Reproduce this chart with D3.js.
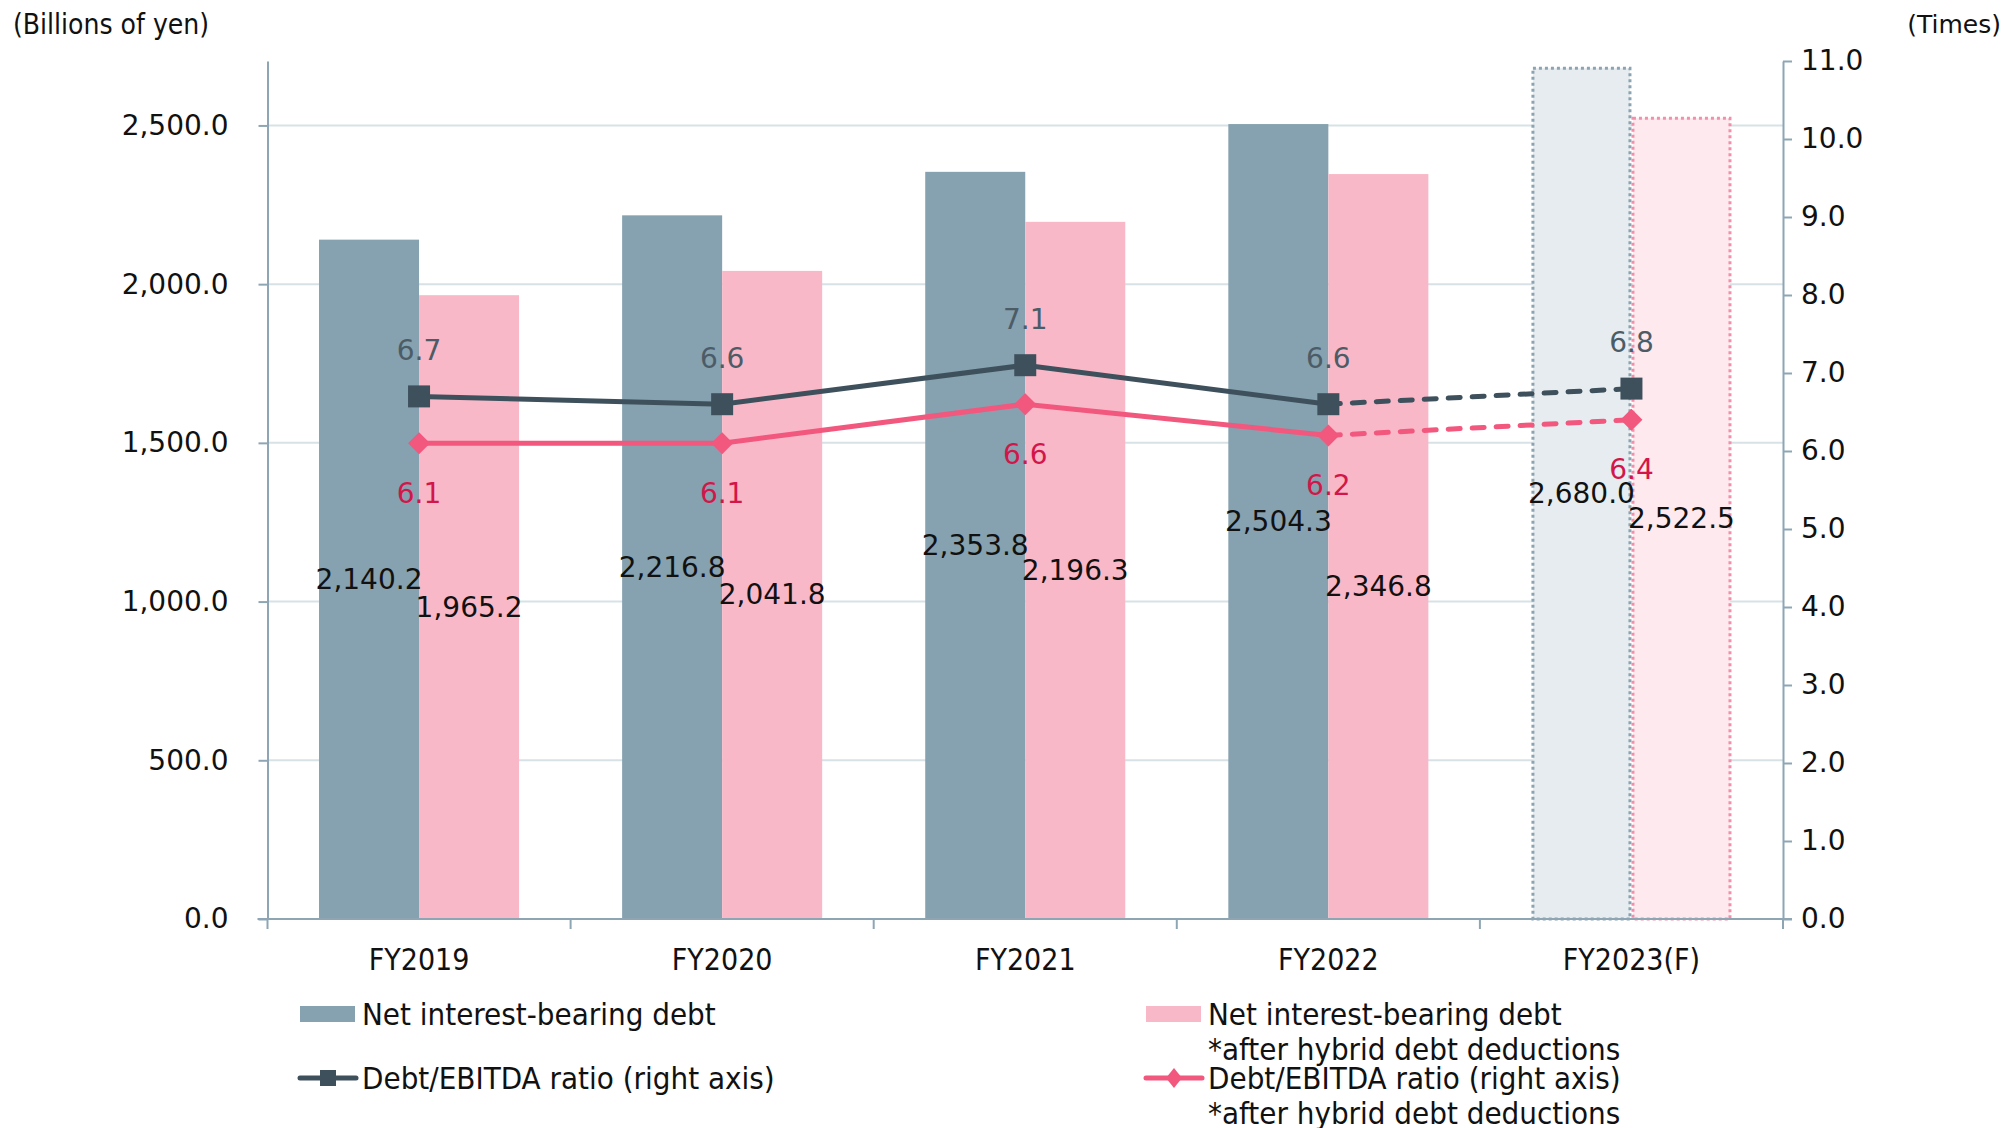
<!DOCTYPE html>
<html>
<head>
<meta charset="utf-8">
<script src="https://cdn.jsdelivr.net/npm/d3@7"></script>
<style>
  body { margin: 0; background: #fff; }
  .num { font-family: "DejaVu Sans", Verdana, sans-serif; }
  .cond { font-family: "DejaVu Sans Condensed", "Liberation Sans Narrow", "DejaVu Sans", sans-serif; font-stretch: condensed; }
</style>
</head>
<body>
<div id="chart"></div>
<script>
// data
const categories = ["FY2019", "FY2020", "FY2021", "FY2022", "FY2023(F)"];
const netDebt = [2140.2, 2216.8, 2353.8, 2504.3, 2680.0];
const netDebtHybrid = [1965.2, 2041.8, 2196.3, 2346.8, 2522.5];
const ratio = [6.7, 6.6, 7.1, 6.6, 6.8];
const ratioHybrid = [6.1, 6.1, 6.6, 6.2, 6.4];
const forecast = [false, false, false, false, true];
const leftTicks = [0, 500, 1000, 1500, 2000, 2500];
const rightTicks = [0, 1, 2, 3, 4, 5, 6, 7, 8, 9, 10, 11];

const width = 2007, height = 1128;
const margin = { left: 267.5, right: 224, top: 61, bottom: 209 };
const innerW = width - margin.left - margin.right;
const innerH = height - margin.top - margin.bottom;

const colors = {
  gray: "#86A1AF", pink: "#F9B8C8",
  grayF: "#E6ECEF", pinkF: "#FDE9EE",
  grayEdge: "#8CA4B2", pinkEdge: "#F38FAA",
  grayLine: "#3E505C", pinkLine: "#F2577E",
  grayText: "#4B5C67", pinkText: "#D2164A",
  axis: "#8EA6B4", grid: "#D8E1E6"
};

const svg = d3.select("#chart").append("svg")
  .attr("width", width).attr("height", height);
const g = svg.append("g").attr("transform", `translate(${margin.left},${margin.top})`);

const x = d3.scaleBand().domain(categories).range([0, innerW]).paddingInner(0.34).paddingOuter(0.17);
const xSub = d3.scaleBand().domain(["net", "hybrid"]).range([0, x.bandwidth()]);
const yL = d3.scaleLinear().domain([0, 2703]).range([innerH, 0]);
const yR = d3.scaleLinear().domain([0, 11]).range([innerH, 0]);
const cx = (c) => x(c) + x.bandwidth() / 2;

// gridlines
g.append("g").selectAll("line").data(leftTicks.filter(d => d > 0)).join("line")
  .attr("x1", 0).attr("x2", innerW)
  .attr("y1", d => yL(d)).attr("y2", d => yL(d))
  .attr("stroke", colors.grid).attr("stroke-width", 2);

// bars
const series = [
  { key: "net", values: netDebt, fill: colors.gray, fillF: colors.grayF, edge: colors.grayEdge },
  { key: "hybrid", values: netDebtHybrid, fill: colors.pink, fillF: colors.pinkF, edge: colors.pinkEdge }
];
series.forEach(s => {
  g.append("g").selectAll("rect").data(categories).join("rect")
    .attr("x", (c) => x(c) + xSub(s.key) + (forecast[categories.indexOf(c)] ? 1.5 : 0))
    .attr("width", (c) => xSub.bandwidth() - (forecast[categories.indexOf(c)] ? 3 : 0))
    .attr("y", (c, i) => yL(s.values[i]))
    .attr("height", (c, i) => innerH - yL(s.values[i]))
    .attr("fill", (c, i) => forecast[i] ? s.fillF : s.fill)
    .attr("stroke", (c, i) => forecast[i] ? s.edge : "none")
    .attr("stroke-width", 3)
    .attr("stroke-dasharray", "3 3");
});

// axes
const axisStyle = (sel) => {
  sel.select(".domain").attr("stroke", colors.axis).attr("stroke-width", 2);
  sel.selectAll(".tick line").attr("stroke", colors.axis).attr("stroke-width", 2);
  sel.selectAll(".tick text").attr("fill", "#111");
};

const leftAxis = g.append("g").attr("class", "num")
  .call(d3.axisLeft(yL).tickValues(leftTicks).tickSize(9).tickSizeOuter(0).tickPadding(30)
    .tickFormat(d => d3.format(",.1f")(d)));
leftAxis.call(axisStyle).attr("font-size", 28);

const rightAxis = g.append("g").attr("class", "num").attr("transform", `translate(${innerW},0)`)
  .call(d3.axisRight(yR).tickValues(rightTicks).tickSize(9).tickSizeOuter(0).tickPadding(9)
    .tickFormat(d3.format(".1f")));
rightAxis.call(axisStyle).attr("font-size", 28);

// x axis with ticks at category boundaries
const bottom = g.append("g").attr("transform", `translate(0,${innerH})`);
bottom.append("line").attr("x1", -10).attr("x2", innerW + 9)
  .attr("stroke", colors.axis).attr("stroke-width", 2);
const step = x.step();
bottom.selectAll(".bt").data(d3.range(categories.length + 1)).join("line")
  .attr("x1", i => i * step).attr("x2", i => i * step)
  .attr("y1", 0).attr("y2", 10)
  .attr("stroke", colors.axis).attr("stroke-width", 2);
bottom.selectAll("text").data(categories).join("text")
  .attr("class", "cond")
  .attr("x", cx).attr("y", 40)
  .attr("text-anchor", "middle").attr("dominant-baseline", "central")
  .attr("font-size", 30).attr("fill", "#111")
  .text(d => d);

// bar value labels, centred on the bar halfway up
const labelNudge = { hybrid: { FY2022: 40 } };
series.forEach(s => {
  g.append("g").selectAll("text").data(categories).join("text")
    .attr("class", "num")
    .attr("x", c => x(c) + xSub(s.key) + xSub.bandwidth() / 2)
    .attr("y", (c, i) => yL(s.values[i] / 2) + ((labelNudge[s.key] || {})[c] || 0))
    .attr("text-anchor", "middle").attr("dominant-baseline", "central")
    .attr("font-size", 28).attr("fill", "#111")
    .text((c, i) => d3.format(",.1f")(s.values[i]));
});

// ratio lines
const lines = [
  { values: ratio, color: colors.grayLine, text: colors.grayText, marker: "square", dy: -46 },
  { values: ratioHybrid, color: colors.pinkLine, text: colors.pinkText, marker: "diamond", dy: 50 }
];
const lineGen = d3.line().x(d => cx(d.c)).y(d => yR(d.v));
lines.forEach(l => {
  const pts = categories.map((c, i) => ({ c, v: l.values[i], f: forecast[i] }));
  const firstF = pts.findIndex(p => p.f);
  g.append("path").datum(pts.slice(0, firstF))
    .attr("d", lineGen).attr("fill", "none")
    .attr("stroke", l.color).attr("stroke-width", 5);
  g.append("path").datum(pts.slice(firstF - 1))
    .attr("d", lineGen).attr("fill", "none")
    .attr("stroke", l.color).attr("stroke-width", 5)
    .attr("stroke-dasharray", "12 12").attr("stroke-linecap", "round");
  g.append("g").selectAll("path").data(pts).join("path")
    .attr("transform", d => `translate(${cx(d.c)},${yR(d.v)})`)
    .attr("d", l.marker === "square" ? "M-11,-11H11V11H-11Z" : "M0,-11L11,0L0,11L-11,0Z")
    .attr("fill", l.color);
  g.append("g").selectAll("text").data(pts).join("text")
    .attr("class", "num")
    .attr("x", d => cx(d.c)).attr("y", d => yR(d.v) + l.dy)
    .attr("text-anchor", "middle").attr("dominant-baseline", "central")
    .attr("font-size", 28).attr("fill", l.text)
    .text(d => d3.format(".1f")(d.v));
});

// unit captions
svg.append("text").attr("class", "cond").attr("x", 13).attr("y", 24)
  .attr("dominant-baseline", "central").attr("font-size", 28).attr("fill", "#111")
  .text("(Billions of yen)");
svg.append("text").attr("class", "num").attr("x", 2001).attr("y", 24)
  .attr("text-anchor", "end").attr("dominant-baseline", "central")
  .attr("font-size", 25).attr("fill", "#111")
  .text("(Times)");

// legend
const legend = svg.append("g").attr("class", "cond").attr("font-size", 31).attr("fill", "#111");
const legendItems = [
  { x: 300, y: 1014, type: "bar", color: colors.gray, lines: ["Net interest-bearing debt"] },
  { x: 1146, y: 1014, type: "bar", color: colors.pink, lines: ["Net interest-bearing debt", "*after hybrid debt deductions"] },
  { x: 300, y: 1078, type: "square", color: colors.grayLine, lines: ["Debt/EBITDA ratio (right axis)"] },
  { x: 1146, y: 1078, type: "diamond", color: colors.pinkLine, lines: ["Debt/EBITDA ratio (right axis)", "*after hybrid debt deductions"] }
];
legendItems.forEach(it => {
  const lg = legend.append("g").attr("transform", `translate(${it.x},${it.y})`);
  if (it.type === "bar") {
    lg.append("rect").attr("x", 0).attr("y", -8).attr("width", 55).attr("height", 16).attr("fill", it.color);
  } else {
    lg.append("line").attr("x1", 0).attr("x2", 56).attr("stroke", it.color)
      .attr("stroke-width", 5).attr("stroke-linecap", "round");
    lg.append("path").attr("transform", "translate(28,0)")
      .attr("d", it.type === "square" ? "M-8,-8H8V8H-8Z" : "M0,-10L8,0L0,10L-8,0Z")
      .attr("fill", it.color);
  }
  it.lines.forEach((t, i) => {
    lg.append("text").attr("x", 62).attr("y", i * 35)
      .attr("dominant-baseline", "central").text(t);
  });
});
</script>
</body>
</html>
